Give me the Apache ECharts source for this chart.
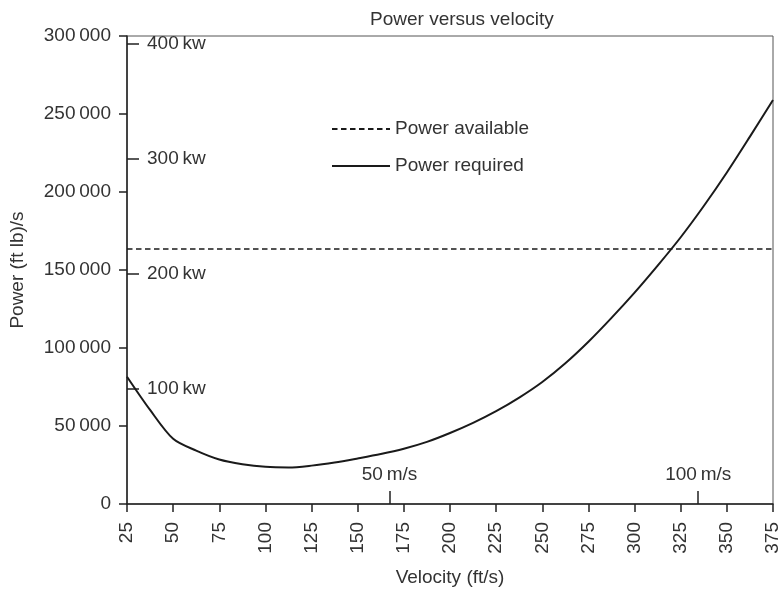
<!DOCTYPE html>
<html>
<head>
<meta charset="utf-8">
<title>Power versus velocity</title>
<script src="https://cdn.jsdelivr.net/npm/echarts@6/dist/echarts.min.js"></script>
<style>
  html, body { margin: 0; padding: 0; background: #fff; }
  #chart { width: 783px; height: 592px; }
</style>
</head>
<body>
<div id="chart"></div>
<script>
// Velocity samples (ft/s) and the power required at each (ft lb/s)
const velocity = [25, 37.5, 50, 62.5, 75, 87.5, 100, 112.5, 125, 137.5, 150, 162.5, 175,
  187.5, 200, 212.5, 225, 237.5, 250, 262.5, 275, 287.5, 300, 312.5, 325, 337.5, 350, 362.5, 375];
const powerRequired = [81600, 60300, 41800, 34200, 28500, 25500, 23800, 23400, 24600, 26600,
  29200, 32000, 35400, 39800, 45500, 52000, 59500, 68200, 78200, 90200, 104000, 119300,
  135500, 152800, 171000, 191000, 212500, 235500, 259000];
const powerAvailable = 163500;

// Axis ticks
const velocityTicks = { min: 25, max: 375, step: 25 };
const powerTicks = { min: 0, max: 300000, step: 50000 };
const kwTicks = [100, 200, 300, 400];
const msTicks = [50, 100];
const FTLBS_PER_KW = 737.56;
const FTS_PER_MS = 3.345;

const FONT = 'Liberation Sans, Arial, sans-serif';
const FS = 19;
const TEXT = '#333';
const INK = '#1a1a1a';

function thousands(v) {
  return String(v).replace(/\B(?=(\d{3})+(?!\d))/g, '\u2009');
}

const chart = echarts.init(document.getElementById('chart'), null, { renderer: 'canvas' });

chart.setOption({
  animation: false,
  backgroundColor: '#fff',
  textStyle: { fontFamily: FONT, color: TEXT },
  title: {
    text: 'Power versus velocity',
    left: 365, top: 5,
    textStyle: { fontFamily: FONT, fontSize: FS, fontWeight: 'normal', color: TEXT }
  },
  grid: {
    left: 126, right: 10, top: 36, bottom: 88,
    show: true, borderColor: '#555', borderWidth: 1
  },
  legend: {
    orient: 'vertical',
    left: 326, top: 114,
    itemWidth: 58, itemHeight: 20, itemGap: 17,
    itemStyle: { opacity: 0 },
    textStyle: { fontFamily: FONT, fontSize: FS, color: TEXT, lineHeight: 20 },
    data: ['Power available', 'Power required']
  },
  xAxis: [
    {
      type: 'value',
      min: velocityTicks.min, max: velocityTicks.max, interval: velocityTicks.step,
      name: 'Velocity (ft/s)', nameLocation: 'middle', nameGap: 64,
      nameTextStyle: { fontFamily: FONT, fontSize: FS, color: TEXT },
      axisLine: { show: true, onZero: false, lineStyle: { color: '#222', width: 1.5 } },
      axisTick: { show: true, length: 8, lineStyle: { color: '#222', width: 1.5 } },
      axisLabel: { rotate: 90, margin: 18, fontFamily: FONT, fontSize: FS, color: TEXT },
      splitLine: { show: false }
    },
    {
      type: 'value', position: 'bottom',
      min: velocityTicks.min / FTS_PER_MS, max: velocityTicks.max / FTS_PER_MS,
      axisLine: { show: false },
      axisTick: { show: true, inside: true, length: 13, customValues: msTicks,
        lineStyle: { color: '#222', width: 1.5 } },
      axisLabel: { inside: true, margin: 20, customValues: msTicks,
        fontFamily: FONT, fontSize: FS, color: TEXT,
        formatter: v => v + '\u2009m/s' },
      splitLine: { show: false }
    }
  ],
  yAxis: [
    {
      type: 'value',
      min: powerTicks.min, max: powerTicks.max, interval: powerTicks.step,
      name: 'Power (ft lb)/s', nameLocation: 'middle', nameGap: 100,
      nameTextStyle: { fontFamily: FONT, fontSize: FS, color: TEXT },
      axisLine: { show: true, onZero: false, lineStyle: { color: '#222', width: 1.5 } },
      axisTick: { show: true, length: 8, lineStyle: { color: '#222', width: 1.5 } },
      axisLabel: { margin: 16, fontFamily: FONT, fontSize: FS, color: TEXT, formatter: thousands },
      splitLine: { show: false }
    },
    {
      type: 'value', position: 'left',
      min: 0, max: powerTicks.max / FTLBS_PER_KW,
      axisLine: { show: false },
      axisTick: { show: true, inside: true, length: 12, customValues: kwTicks,
        lineStyle: { color: '#222', width: 1.5 } },
      axisLabel: { inside: true, margin: 20, customValues: kwTicks,
        fontFamily: FONT, fontSize: FS, color: TEXT,
        formatter: v => v + '\u2009kw' },
      splitLine: { show: false }
    }
  ],
  series: [
    {
      name: 'Power available',
      type: 'line',
      xAxisIndex: 0, yAxisIndex: 0,
      symbol: 'none',
      lineStyle: { color: INK, width: 1.6, type: [5.5, 3.5] },
      itemStyle: { color: INK },
      data: [[velocityTicks.min, powerAvailable], [velocityTicks.max, powerAvailable]]
    },
    {
      name: 'Power required',
      type: 'line',
      xAxisIndex: 0, yAxisIndex: 0,
      symbol: 'none',
      smooth: 0.3,
      lineStyle: { color: INK, width: 2 },
      itemStyle: { color: INK },
      data: velocity.map((v, i) => [v, powerRequired[i]])
    }
  ]
});
</script>
</body>
</html>
